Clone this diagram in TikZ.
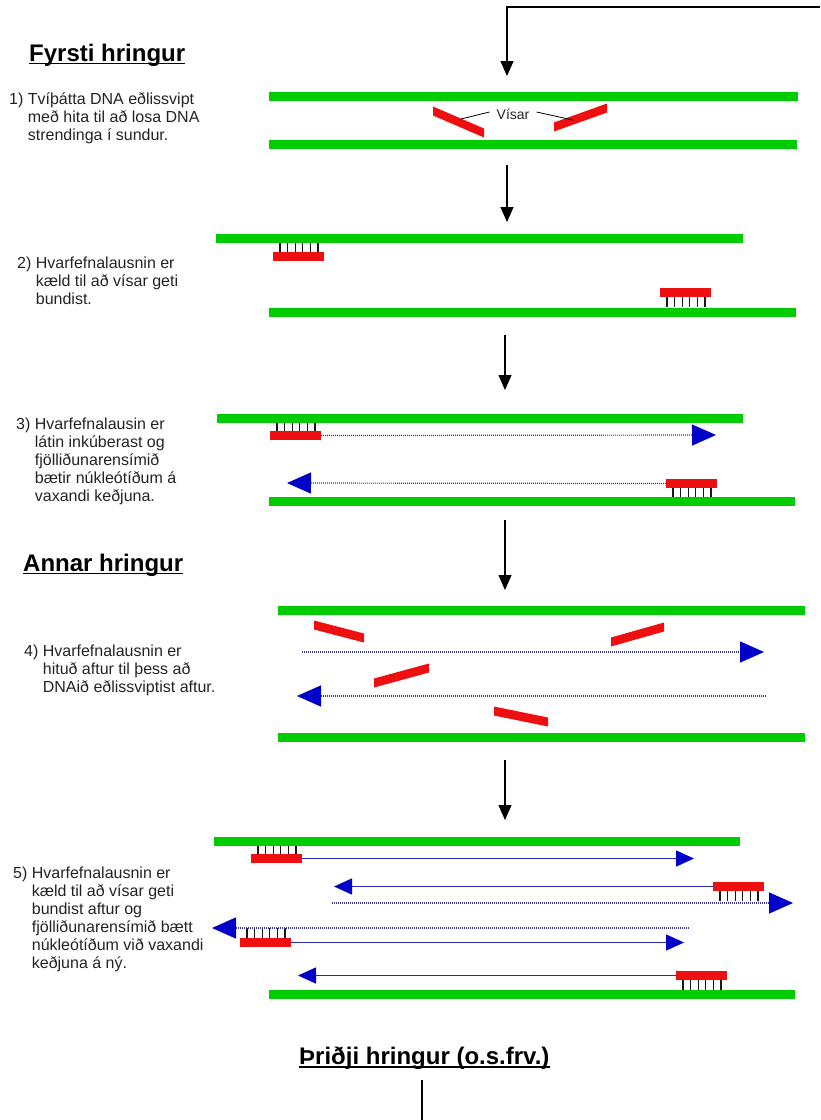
\documentclass[tikz,border=0pt]{standalone}
\usepackage{fontspec}
\setmainfont{Liberation Sans}
\usetikzlibrary{arrows.meta}
\definecolor{dnagreen}{RGB}{0,204,0}
\definecolor{dnared}{RGB}{238,16,16}
\definecolor{tipblue}{RGB}{0,0,200}
\definecolor{dotblue}{RGB}{55,55,150}
\definecolor{solidblue}{RGB}{40,40,170}
\definecolor{txt}{RGB}{35,35,35}
\newcommand\tickU[1]{\foreach \k in {0,...,5}{\draw[tick] ([xshift=7pt+\k*7.6pt]#1.north west) -- ++(0,-10);}}
\newcommand\tickD[1]{\foreach \k in {0,...,5}{\draw[tick] ([xshift=7pt+\k*7.6pt]#1.south west) -- ++(0,10);}}
\newcommand\slantbar[4]{\fill[dnared] (#1,#2-4.5) -- (#3,#4-4.5) -- (#3,#4+4.5) -- (#1,#2+4.5) -- cycle;}
\begin{document}
\begin{tikzpicture}[x=1pt,y=-1pt,
  strand/.style={line width=9pt, draw=dnagreen},
  primer/.style={fill=dnared, minimum width=51pt, minimum height=9pt, inner sep=0pt, outer sep=0pt, anchor=north west},
  tick/.style={line width=1.2pt, draw=black!90},
  stepline/.style={line width=1.1pt, draw=black, -{Triangle[length=15pt,width=13pt]}},
  dotgrow/.style={draw=dotblue, line width=1.2pt, dash pattern=on 1pt off 1pt, -{Triangle[length=24pt,width=21pt,color=tipblue]}},
  solidgrow/.style={draw=solidblue, line width=1.4pt, -{Triangle[length=18pt,width=16pt,color=tipblue]}},
  steptext/.style={inner sep=0pt, anchor=base west, text=txt, font=\fontsize{16}{18}\selectfont},
  title/.style={inner sep=0pt, anchor=base west, font=\fontsize{24}{28}\selectfont\bfseries},
  uline/.style={line width=1.8pt}
]
\useasboundingbox (0,0) rectangle (820,1120);

% ---------- titles ----------
\node[title] (h1) at (29,61) {Fyrsti hringur};
\draw[uline] ([yshift=-2.5pt]h1.base west) -- ([yshift=-2.5pt]h1.base east);
\node[title] (h2) at (23,571) {Annar hringur};
\draw[uline] ([yshift=-2.5pt]h2.base west) -- ([yshift=-2.5pt]h2.base east);
\node[title] (h3) at (299,1064) {Þriðji hringur (o.s.frv.)};
\draw[uline] ([yshift=-3pt]h3.base west) -- ([yshift=-3pt]h3.base east);

% ---------- step texts ----------
\node[steptext] (t1) at (9,104) {\begin{tabular}[t]{@{}l@{\ }l@{}}1) & Tvíþátta DNA eðlissvipt\\ & með hita til að losa DNA\\ & strendinga í sundur.\end{tabular}};
\node[steptext] (t2) at (17,268) {\begin{tabular}[t]{@{}l@{\ }l@{}}2) & Hvarfefnalausnin er\\ & kæld til að vísar geti\\ & bundist.\end{tabular}};
\node[steptext] (t3) at (16,429) {\begin{tabular}[t]{@{}l@{\ }l@{}}3) & Hvarfefnalausin er\\ & látin inkúberast og\\ & fjölliðunarensímið\\ & bætir núkleótíðum á\\ & vaxandi keðjuna.\end{tabular}};
\node[steptext] (t4) at (24,656) {\begin{tabular}[t]{@{}l@{\ }l@{}}4) & Hvarfefnalausnin er\\ & hituð aftur til þess að\\ & DNAið eðlissviptist aftur.\end{tabular}};
\node[steptext] (t5) at (13,878) {\begin{tabular}[t]{@{}l@{\ }l@{}}5) & Hvarfefnalausnin er\\ & kæld til að vísar geti\\ & bundist aftur og\\ & fjölliðunarensímið bætt\\ & núkleótíðum við vaxandi\\ & keðjuna á ný.\end{tabular}};

% ---------- step arrows ----------
\coordinate (in0) at (820,7);
\coordinate (s1top) at (507,76);
\draw[stepline] (in0) -| (s1top);
\coordinate (a1s) at (507,165); \coordinate (a1e) at (507,222);
\draw[stepline] (a1s) -- (a1e);
\coordinate (a2s) at (505,335); \coordinate (a2e) at (505,390);
\draw[stepline] (a2s) -- (a2e);
\coordinate (a3s) at (505,520); \coordinate (a3e) at (505,590);
\draw[stepline] (a3s) -- (a3e);
\coordinate (a4s) at (505,760); \coordinate (a4e) at (505,820);
\draw[stepline] (a4s) -- (a4e);
\coordinate (a5s) at (422,1080); \coordinate (a5e) at (422,1120);
\draw[line width=1.1pt] (a5s) -- (a5e);

% ---------- step 1 ----------
\draw[strand] (269,96) -- (798,96);
\draw[strand] (269,144) -- (797,144);
\slantbar{433}{111}{484}{133}
\slantbar{554}{127}{607}{108}
\node[inner xsep=7pt, inner ysep=1pt, text=txt, font=\fontsize{14}{16}\selectfont] (visar) at (513,114) {Vísar};
\coordinate (l1) at (461,119); \coordinate (l2) at (573,120);
\draw[line width=0.8pt] (l1) -- ([yshift=2pt]visar.west);
\draw[line width=0.8pt] ([yshift=2pt]visar.east) -- (l2);

% ---------- step 2 ----------
\node[primer] (p2a) at (273,252) {};
\node[primer] (p2b) at (660,288) {};
\tickU{p2a} \tickD{p2b}
\draw[strand] (216,238) -- (743,238);
\draw[strand] (269,312.5) -- (796,312.5);

% ---------- step 3 ----------
\node[primer] (p3a) at (270,431) {};
\node[primer] (p3b) at (666,479) {};
\tickU{p3a} \tickD{p3b}
\draw[strand] (217,418.5) -- (743,418.5);
\draw[strand] (269,501.5) -- (795,501.5);
\coordinate (e3a) at (716,435); \coordinate (e3b) at (287,483);
\draw[dotgrow] (p3a.east) -- (e3a);
\draw[dotgrow] (p3b.west) -- (e3b);

% ---------- step 4 ----------
\draw[strand] (278,610) -- (805,610);
\draw[strand] (278,737) -- (805,737);
\slantbar{314}{625}{364}{638}
\slantbar{611}{642}{664}{627}
\slantbar{374}{683}{429}{668}
\slantbar{494}{711}{548}{722}
\coordinate (d4as) at (302,652); \coordinate (d4ae) at (764,652);
\coordinate (d4bs) at (766,696); \coordinate (d4be) at (297,696);
\draw[dotgrow] (d4as) -- (d4ae);
\draw[dotgrow] (d4bs) -- (d4be);

% ---------- step 5 ----------
\node[primer] (p5a) at (251,854) {};
\node[primer] (p5b) at (713,882) {};
\node[primer] (p5c) at (240,938) {};
\node[primer] (p5d) at (676,971) {};
\tickU{p5a} \tickD{p5b} \tickU{p5c} \tickD{p5d}
\draw[strand] (214,841) -- (740,841);
\draw[strand] (269,994) -- (795,994);
\coordinate (e5a) at (694,858.5); \coordinate (e5b) at (334,886.5);
\coordinate (e5c) at (684,942.5); \coordinate (e5d) at (298,975.5);
\draw[solidgrow] (p5a.east) -- (e5a);
\draw[solidgrow] (p5b.west) -- (e5b);
\draw[solidgrow] (p5c.east) -- (e5c);
\draw[solidgrow] (p5d.west) -- (e5d);
\coordinate (d5as) at (332,903); \coordinate (d5ae) at (793,903);
\coordinate (d5bs) at (689,928); \coordinate (d5be) at (212,928);
\draw[dotgrow] (d5as) -- (d5ae);
\draw[dotgrow] (d5bs) -- (d5be);
\end{tikzpicture}
\end{document}
